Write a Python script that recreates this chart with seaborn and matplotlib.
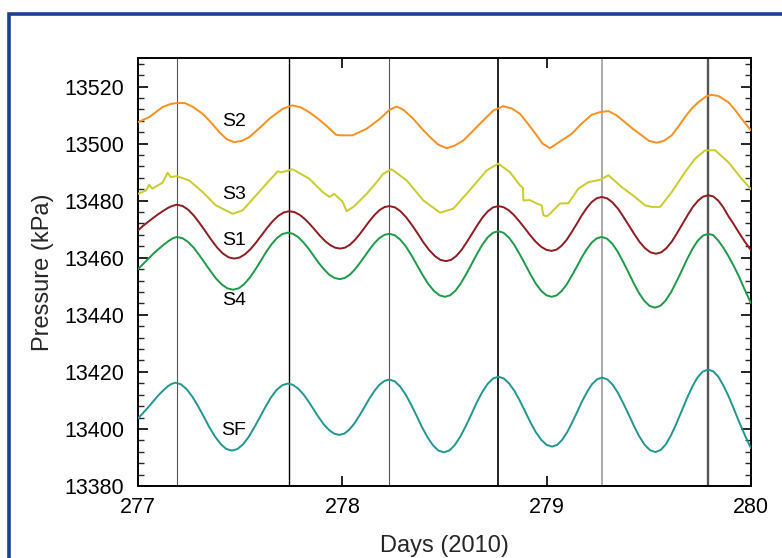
import matplotlib
matplotlib.use("Agg")
import matplotlib.pyplot as plt
from matplotlib.patches import Rectangle
from matplotlib.ticker import MultipleLocator
import seaborn as sns

sns.set_theme(style="ticks")
plt.rcParams['font.family'] = ['Liberation Sans', 'DejaVu Sans']

# ---------------- data ----------------
s2_days = [277.00, 277.055, 277.12, 277.16, 277.19, 277.23, 277.27, 277.317, 277.36, 277.398,
           277.435, 277.471, 277.51, 277.545, 277.60, 277.643, 277.708, 277.757, 277.80, 277.838,
           277.88, 277.92, 277.969, 277.99, 278.05, 278.119, 278.184, 278.23, 278.266, 278.30,
           278.347, 278.39, 278.429, 278.47, 278.511, 278.55, 278.592, 278.63, 278.674, 278.739,
           278.788, 278.83, 278.87, 278.91, 278.951, 278.98, 279.016, 279.073, 279.122, 279.171,
           279.22, 279.26, 279.302, 279.34, 279.383, 279.425, 279.465, 279.50, 279.539, 279.575,
           279.612, 279.645, 279.677, 279.71, 279.742, 279.78, 279.807, 279.84, 279.889, 279.92,
           279.954, 280.00]
s2_kpa = [13507.5, 13509.3, 13512.8, 13513.9, 13514.2, 13514.2, 13512.8, 13510.4, 13507.2, 13504.0,
          13501.5, 13500.5, 13501.0, 13502.3, 13505.8, 13508.7, 13512.2, 13513.4, 13512.6, 13511.0,
          13508.8, 13506.4, 13503.1, 13502.9, 13502.9, 13505.2, 13508.7, 13511.8, 13513.0, 13511.8,
          13508.7, 13505.2, 13502.3, 13499.6, 13498.4, 13499.3, 13501.1, 13503.8, 13507.0, 13511.6,
          13513.1, 13512.3, 13510.4, 13506.8, 13502.9, 13500.0, 13498.4, 13501.1, 13503.4, 13507.0,
          13510.1, 13511.0, 13511.4, 13510.0, 13507.5, 13505.0, 13502.9, 13501.0, 13500.3, 13501.0,
          13502.9, 13506.0, 13509.3, 13512.3, 13514.5, 13516.5, 13517.1, 13516.7, 13514.5, 13512.0,
          13508.7, 13504.6]

s3_days = [277.00, 277.04, 277.055, 277.07, 277.12, 277.145, 277.16, 277.19, 277.25, 277.317,
           277.38, 277.463, 277.512, 277.578, 277.643, 277.684, 277.70, 277.757, 277.838, 277.904,
           277.937, 277.96, 277.985, 278.00, 278.021, 278.054, 278.119, 278.168, 278.20, 278.241,
           278.315, 278.396, 278.478, 278.543, 278.608, 278.657, 278.706, 278.763, 278.82, 278.869,
           278.884, 278.886, 278.918, 278.951, 278.975, 278.984, 279.00, 279.016, 279.065, 279.106,
           279.155, 279.204, 279.261, 279.302, 279.367, 279.432, 279.481, 279.514, 279.555, 279.612,
           279.677, 279.726, 279.775, 279.824, 279.889, 279.954, 280.00]
s3_kpa = [13482.4, 13483.6, 13485.6, 13484.2, 13486.3, 13489.8, 13488.3, 13488.6, 13487.1, 13483.0,
          13478.4, 13475.4, 13476.6, 13481.9, 13487.1, 13490.3, 13489.9, 13491.0, 13487.7, 13483.0,
          13481.3, 13482.4, 13480.7, 13479.8, 13476.3, 13477.8, 13482.4, 13486.5, 13489.4, 13491.0,
          13487.1, 13480.1, 13475.8, 13477.2, 13482.4, 13486.5, 13490.6, 13493.0, 13490.0, 13485.4,
          13484.5, 13480.1, 13480.2, 13479.0, 13478.4, 13474.9, 13474.5, 13475.4, 13479.0, 13479.1,
          13484.2, 13486.5, 13487.3, 13488.9, 13484.8, 13481.3, 13478.4, 13477.8, 13477.8, 13483.0,
          13490.0, 13494.7, 13497.6, 13497.7, 13493.5, 13487.7, 13484.0]

s1_days = [277.00, 277.025, 277.05, 277.075, 277.10, 277.125, 277.15, 277.17,
           277.19, 277.218, 277.246, 277.274, 277.302, 277.331, 277.359, 277.387, 277.415, 277.443,
           277.471, 277.498, 277.525, 277.552, 277.579, 277.606, 277.633, 277.66, 277.687, 277.714,
           277.741, 277.766, 277.791, 277.816, 277.841, 277.866, 277.89, 277.915, 277.94, 277.965,
           277.99, 278.014, 278.038, 278.062, 278.086, 278.11, 278.134, 278.158, 278.182, 278.206,
           278.23, 278.258, 278.285, 278.313, 278.341, 278.369, 278.396, 278.424, 278.452, 278.479,
           278.507, 278.533, 278.558, 278.584, 278.609, 278.635, 278.661, 278.686, 278.712, 278.737,
           278.763, 278.789, 278.815, 278.841, 278.867, 278.894, 278.92, 278.946, 278.972, 278.998,
           279.024, 279.049, 279.073, 279.098, 279.122, 279.147, 279.171, 279.196, 279.22, 279.245,
           279.269, 279.296, 279.322, 279.349, 279.375, 279.402, 279.429, 279.455, 279.482, 279.508,
           279.535, 279.561, 279.586, 279.612, 279.637, 279.663, 279.689, 279.714, 279.74, 279.765,
           279.791, 279.815, 279.84, 279.865, 279.89, 279.915, 279.94, 279.97, 280.00]
s1_kpa = [13469.6, 13471.2, 13472.6, 13474.0, 13475.3, 13476.5, 13477.6, 13478.2,
          13478.6, 13478.14, 13476.80, 13474.71, 13472.07, 13469.15, 13466.23, 13463.59, 13461.50, 13460.16,
          13459.7, 13460.11, 13461.29, 13463.12, 13465.44, 13468.0, 13470.56, 13472.88, 13474.71, 13475.89,
          13476.3, 13475.98, 13475.05, 13473.60, 13471.77, 13469.75, 13467.73, 13465.90, 13464.45, 13463.52,
          13463.2, 13463.56, 13464.62, 13466.27, 13468.35, 13470.65, 13472.95, 13475.03, 13476.68, 13477.74,
          13478.1, 13477.63, 13476.26, 13474.12, 13471.43, 13468.45, 13465.47, 13462.78, 13460.64, 13459.27,
          13458.8, 13459.27, 13460.64, 13462.78, 13465.47, 13468.45, 13471.43, 13474.12, 13476.26, 13477.63,
          13478.1, 13477.72, 13476.60, 13474.87, 13472.68, 13470.25, 13467.82, 13465.63, 13463.90, 13462.78,
          13462.4, 13462.86, 13464.20, 13466.29, 13468.93, 13471.85, 13474.77, 13477.41, 13479.50, 13480.84,
          13481.3, 13480.81, 13479.40, 13477.20, 13474.42, 13471.35, 13468.28, 13465.50, 13463.30, 13461.89,
          13461.4, 13461.90, 13463.36, 13465.62, 13468.48, 13471.65, 13474.82, 13477.68, 13479.94, 13481.40,
          13481.9, 13481.5, 13480.0, 13477.6, 13474.5, 13471.8, 13468.9, 13465.6, 13462.6]

s4_days = [277.00, 277.025, 277.05, 277.075, 277.10, 277.125, 277.15, 277.17,
           277.19, 277.218, 277.245, 277.273, 277.30, 277.328, 277.356, 277.383, 277.411, 277.438,
           277.466, 277.493, 277.519, 277.546, 277.573, 277.60, 277.626, 277.653, 277.68, 277.706,
           277.733, 277.758, 277.784, 277.809, 277.835, 277.86, 277.885, 277.911, 277.936, 277.962,
           277.987, 278.011, 278.036, 278.06, 278.084, 278.109, 278.133, 278.157, 278.181, 278.206,
           278.23, 278.257, 278.284, 278.312, 278.339, 278.366, 278.393, 278.42, 278.448, 278.475,
           278.502, 278.528, 278.554, 278.58, 278.606, 278.633, 278.659, 278.685, 278.711, 278.737,
           278.763, 278.789, 278.815, 278.841, 278.867, 278.894, 278.92, 278.946, 278.972, 278.998,
           279.024, 279.049, 279.073, 279.098, 279.122, 279.147, 279.171, 279.196, 279.22, 279.245,
           279.269, 279.295, 279.321, 279.347, 279.373, 279.40, 279.426, 279.452, 279.478, 279.504,
           279.53, 279.556, 279.582, 279.608, 279.634, 279.661, 279.687, 279.713, 279.739, 279.765,
           279.791, 279.815, 279.84, 279.865, 279.89, 279.915, 279.94, 279.97, 280.00]
s4_kpa = [13456.0, 13457.8, 13459.6, 13461.4, 13463.0, 13464.5, 13465.9, 13466.8,
          13467.3, 13466.85, 13465.53, 13463.49, 13460.91, 13458.05, 13455.19, 13452.61, 13450.57, 13449.25,
          13448.8, 13449.29, 13450.71, 13452.92, 13455.71, 13458.8, 13461.89, 13464.68, 13466.89, 13468.31,
          13468.8, 13468.40, 13467.24, 13465.44, 13463.17, 13460.65, 13458.13, 13455.86, 13454.06, 13452.90,
          13452.5, 13452.89, 13454.02, 13455.78, 13457.99, 13460.45, 13462.91, 13465.12, 13466.88, 13468.01,
          13468.4, 13467.86, 13466.29, 13463.85, 13460.76, 13457.35, 13453.94, 13450.85, 13448.41, 13446.84,
          13446.3, 13446.86, 13448.50, 13451.04, 13454.25, 13457.8, 13461.35, 13464.56, 13467.10, 13468.74,
          13469.3, 13468.74, 13467.10, 13464.56, 13461.35, 13457.8, 13454.25, 13451.04, 13448.50, 13446.86,
          13446.3, 13446.81, 13448.31, 13450.63, 13453.56, 13456.8, 13460.04, 13462.97, 13465.29, 13466.79,
          13467.3, 13466.69, 13464.93, 13462.19, 13458.73, 13454.9, 13451.07, 13447.61, 13444.87, 13443.11,
          13442.5, 13443.13, 13444.97, 13447.84, 13451.45, 13455.45, 13459.45, 13463.06, 13465.93, 13467.77,
          13468.4, 13467.9, 13466.0, 13463.5, 13460.5, 13457.2, 13453.6, 13448.7, 13444.0]

sf_days = [277.00, 277.025, 277.05, 277.075, 277.10, 277.125, 277.145, 277.165,
           277.183, 277.211, 277.238, 277.266, 277.294, 277.322, 277.349, 277.377, 277.405, 277.432,
           277.46, 277.487, 277.515, 277.542, 277.569, 277.597, 277.624, 277.651, 277.678, 277.706,
           277.733, 277.758, 277.783, 277.809, 277.834, 277.859, 277.884, 277.909, 277.935, 277.96,
           277.985, 278.01, 278.034, 278.059, 278.083, 278.108, 278.132, 278.157, 278.181, 278.206,
           278.23, 278.257, 278.283, 278.31, 278.337, 278.364, 278.39, 278.417, 278.444, 278.47,
           278.497, 278.524, 278.55, 278.577, 278.604, 278.631, 278.657, 278.684, 278.711, 278.737,
           278.764, 278.79, 278.816, 278.843, 278.869, 278.895, 278.921, 278.947, 278.974, 279.00,
           279.026, 279.051, 279.075, 279.10, 279.124, 279.149, 279.173, 279.198, 279.222, 279.247,
           279.271, 279.297, 279.323, 279.349, 279.375, 279.402, 279.428, 279.454, 279.48, 279.506,
           279.532, 279.558, 279.584, 279.609, 279.635, 279.661, 279.687, 279.713, 279.738, 279.764,
           279.79, 279.815, 279.84, 279.865, 279.89, 279.915, 279.94, 279.97, 280.00]
sf_kpa = [13403.7, 13405.6, 13407.6, 13409.7, 13411.8, 13413.6, 13414.9, 13415.8,
          13416.2, 13415.62, 13413.93, 13411.30, 13407.98, 13404.3, 13400.62, 13397.30, 13394.67, 13392.98,
          13392.4, 13392.98, 13394.64, 13397.24, 13400.52, 13404.15, 13407.78, 13411.06, 13413.66, 13415.32,
          13415.9, 13415.46, 13414.18, 13412.19, 13409.68, 13406.9, 13404.12, 13401.61, 13399.62, 13398.34,
          13397.9, 13398.38, 13399.75, 13401.90, 13404.60, 13407.6, 13410.60, 13413.30, 13415.45, 13416.82,
          13417.3, 13416.68, 13414.86, 13412.05, 13408.49, 13404.55, 13400.61, 13397.05, 13394.24, 13392.42,
          13391.8, 13392.45, 13394.33, 13397.26, 13400.96, 13405.05, 13409.14, 13412.84, 13415.77, 13417.65,
          13418.3, 13417.70, 13415.96, 13413.25, 13409.84, 13406.05, 13402.26, 13398.85, 13396.14, 13394.40,
          13393.8, 13394.39, 13396.11, 13398.79, 13402.16, 13405.9, 13409.64, 13413.01, 13415.69, 13417.41,
          13418.0, 13417.36, 13415.51, 13412.62, 13408.98, 13404.95, 13400.92, 13397.28, 13394.39, 13392.54,
          13391.9, 13392.61, 13394.66, 13397.85, 13401.88, 13406.35, 13410.82, 13414.85, 13418.04, 13420.09,
          13420.8, 13420.2, 13418.3, 13415.2, 13411.5, 13407.2, 13402.8, 13397.8, 13393.2]

series_names = ["S2", "S3", "S1", "S4", "SF"]
label_days = [277.47, 277.47, 277.47, 277.47, 277.47]
label_kpa = [13507.8, 13482.2, 13466.1, 13445.1, 13399.3]

vline_days = [277.19, 277.74, 278.23, 278.76, 279.27, 279.79]

x_ticks = [277, 278, 279, 280]
y_ticks = [13380, 13400, 13420, 13440, 13460, 13480, 13500, 13520]

# ---------------- styling ----------------
colors = {"S2": "#f7901e", "S3": "#c9cc2c", "S1": "#8e1b1f",
          "S4": "#1c9a48", "SF": "#23958f"}
vline_colors = ["#555555", "#000000", "#555555", "#000000", "#aaaaaa", "#555555"]
vline_widths = [0.8, 1.0, 0.8, 1.2, 1.4, 1.7]

fig = plt.figure(figsize=(7.82, 5.58), dpi=100)
fig.patch.set_facecolor("white")
ax = fig.add_axes([138 / 782, 1 - 486 / 558, (751 - 138) / 782, (486 - 58) / 558])

for d, c, w in zip(vline_days, vline_colors, vline_widths):
    ax.axvline(d, color=c, lw=w, zorder=1)

data = {"S2": (s2_days, s2_kpa), "S3": (s3_days, s3_kpa), "S1": (s1_days, s1_kpa),
        "S4": (s4_days, s4_kpa), "SF": (sf_days, sf_kpa)}
for name in series_names:
    xd, yd = data[name]
    sns.lineplot(x=xd, y=yd, ax=ax, color=colors[name], lw=1.4, sort=False,
                 estimator=None, zorder=3)

for name, ld, lk in zip(series_names, label_days, label_kpa):
    ax.text(ld, lk, name, ha="center", va="center", fontsize=14, color="black", zorder=4)

ax.set_xlim(277, 280)
ax.set_ylim(13380, 13530)
ax.set_xticks(x_ticks)
ax.set_yticks(y_ticks)
ax.yaxis.set_minor_locator(MultipleLocator(4))
ax.tick_params(axis="both", which="major", direction="in", top=True, right=True,
               length=7, width=1.2, labelsize=15.5, colors="black")
ax.tick_params(axis="x", which="major", pad=8)
ax.tick_params(axis="y", which="major", pad=10)
ax.tick_params(axis="y", which="minor", direction="in", left=True, right=True,
               length=4, width=1.0)
for sp in ax.spines.values():
    sp.set_linewidth(1.4)
    sp.set_color("black")

ax.set_xlabel("Days (2010)", fontsize=17, labelpad=12)
ax.set_ylabel("Pressure (kPa)", fontsize=17, labelpad=7)
ax.grid(False)

# blue frame around the figure (right and bottom edges fall outside the canvas)
fig.add_artist(Rectangle((8.5 / 782, -0.2), 1.5, 1 - 13.5 / 558 + 0.2, fill=False,
                         edgecolor="#1b3f92", lw=2.6, transform=fig.transFigure))

fig.savefig("out.png", dpi=100)
